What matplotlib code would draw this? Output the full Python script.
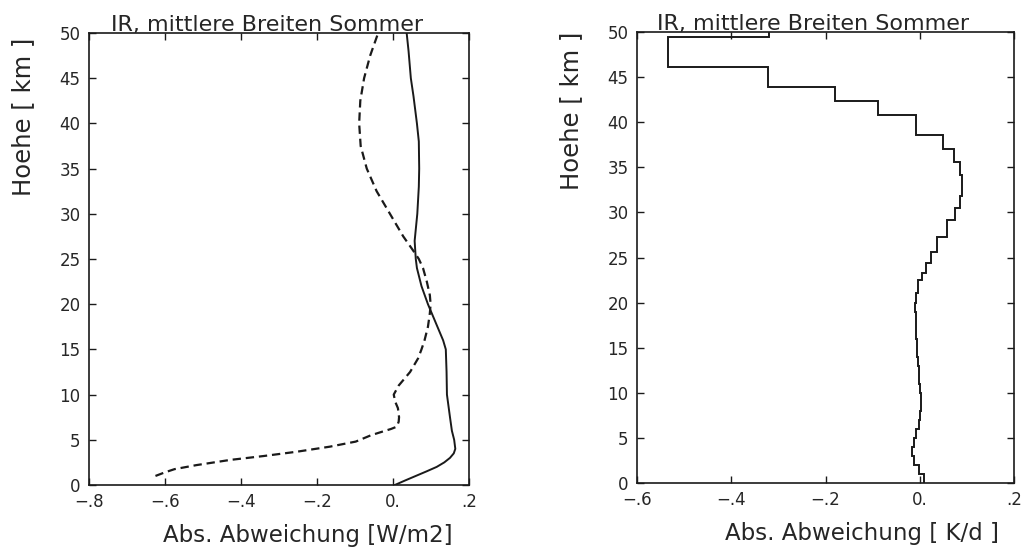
import matplotlib
matplotlib.use("Agg")
import matplotlib.pyplot as plt

plt.rcParams["font.family"] = ["DejaVu Sans"]
plt.rcParams["lines.scale_dashes"] = False

INK = "#1a1a1a"
TEXT = "#262626"

# --- Left panel: flux deviation profiles [W/m2] vs. height [km] ---
flux_solid_h = [0, 0.5, 1, 1.5, 2, 2.5, 3, 3.5, 4, 5, 6, 7.5, 10, 12.5, 15, 16,
                18, 20, 22, 24, 25, 27, 30, 33, 35, 38, 40, 43, 45, 48, 50]
flux_solid_v = [0.005, 0.032, 0.060, 0.088, 0.115, 0.135, 0.150, 0.160, 0.164,
                0.161, 0.155, 0.150, 0.142, 0.141, 0.139, 0.132, 0.112, 0.092,
                0.075, 0.063, 0.060, 0.057, 0.064, 0.068, 0.069, 0.068, 0.063,
                0.054, 0.047, 0.041, 0.036]

flux_dash_h = [1.0, 1.4, 1.75, 2.2, 2.77, 3.2, 3.68, 4.24, 4.8, 5.5, 5.9, 6.2,
               6.45, 7.0, 7.5, 8.5, 9.2, 10, 11, 12.5, 14, 15, 16, 17.5, 19, 20,
               21, 22.5, 24, 25, 26, 27.5, 30, 32.5, 35, 37.5, 40, 42.5, 45,
               47.5, 50]
flux_dash_v = [-0.625, -0.600, -0.575, -0.517, -0.429, -0.341, -0.253, -0.166,
               -0.098, -0.058, -0.028, -0.005, 0.010, 0.015, 0.016, 0.013,
               0.006, 0.002, 0.015, 0.045, 0.066, 0.075, 0.083, 0.092, 0.097,
               0.099, 0.097, 0.089, 0.079, 0.068, 0.052, 0.027, -0.008, -0.043,
               -0.069, -0.085, -0.089, -0.086, -0.076, -0.060, -0.039]

# --- Right panel: heating-rate deviation [K/d] per model layer ---
layer_edges = [0, 1, 2, 3, 4, 5, 6, 7, 8, 9, 10, 11, 12, 13, 14, 15, 16, 17,
               18, 19, 20, 21.1, 22.5, 23.3, 24.4, 25.6, 27.3, 29.2, 30.5,
               31.8, 33.0, 34.2, 35.6, 37.0, 38.6, 40.8, 42.3, 43.9, 46.1,
               49.4, 50]
heating_dev = [0.008, -0.002, -0.012, -0.016, -0.013, -0.007, -0.002, 0.000,
               0.002, 0.002, 0.001, -0.001, -0.002, -0.004, -0.005, -0.006,
               -0.007, -0.008, -0.009, -0.010, -0.009, -0.004, 0.004, 0.013,
               0.024, 0.037, 0.057, 0.075, 0.086, 0.089, 0.089, 0.086, 0.073,
               0.049, -0.008, -0.088, -0.180, -0.323, -0.534, -0.320]

height_ticks = [0, 5, 10, 15, 20, 25, 30, 35, 40, 45, 50]
left_xticks = [-0.8, -0.6, -0.4, -0.2, 0.0, 0.2]
left_xlabels = ["\u2212.8", "\u2212.6", "\u2212.4", "\u2212.2", "0.", ".2"]
right_xticks = [-0.6, -0.4, -0.2, 0.0, 0.2]
right_xlabels = ["\u2212.6", "\u2212.4", "\u2212.2", "0.", ".2"]

title = "IR, mittlere Breiten Sommer"
ylabel = "Hoehe [ km ]"
left_xlabel = "Abs. Abweichung [W/m2]"
right_xlabel = "Abs. Abweichung [ K/d ]"

fig = plt.figure(figsize=(10.26, 5.49), dpi=100)
ax1 = fig.add_axes([0.0867, 0.1166, 0.3704, 0.8233])
ax2 = fig.add_axes([0.6209, 0.1202, 0.3674, 0.8215])


def style(ax, xticks, xlabels, xlim):
    ax.set_xlim(*xlim)
    ax.set_ylim(0, 50)
    ax.set_xticks(xticks)
    ax.set_xticklabels(xlabels)
    ax.set_yticks(height_ticks)
    ax.tick_params(direction="in", length=5, width=1.0, color=INK,
                   top=True, right=True, labelsize=12, labelcolor=TEXT, pad=6)
    for s in ax.spines.values():
        s.set_linewidth(1.2)
        s.set_color(INK)


ax1.plot(flux_solid_v, flux_solid_h, color=INK, lw=1.4)
ax1.plot(flux_dash_v, flux_dash_h, color=INK, lw=1.6, dashes=(6, 3.5))
style(ax1, left_xticks, left_xlabels, (-0.8, 0.2))

ax2.stairs(heating_dev, layer_edges, orientation="horizontal", baseline=None,
           color=INK, lw=1.4)
style(ax2, right_xticks, right_xlabels, (-0.6, 0.2))

for ax, tx, lx, xl in ((ax1, 0.468, 0.576, left_xlabel),
                       (ax2, 0.467, 0.597, right_xlabel)):
    ax.text(tx, 1.004, title, transform=ax.transAxes, ha="center",
            va="baseline", fontsize=16, color=TEXT)
    ax.text(lx, -0.112, xl, transform=ax.transAxes, ha="center",
            va="center", fontsize=16.5, color=TEXT)

fig.text(23 / 1026, 1 - 38 / 549, ylabel, rotation=90, ha="center", va="top",
         fontsize=17.5, color=TEXT)
fig.text(571 / 1026, 1 - 32 / 549, ylabel, rotation=90, ha="center", va="top",
         fontsize=17.5, color=TEXT)

fig.savefig("out.png", dpi=100)
